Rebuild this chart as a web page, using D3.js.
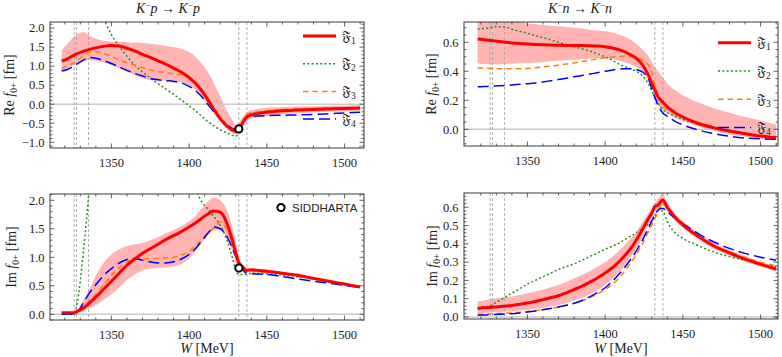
<!DOCTYPE html>
<html><head><meta charset="utf-8">
<script src="https://cdn.jsdelivr.net/npm/d3@7"></script>
<style>body{margin:0;background:#fff}svg{display:block}</style>
</head><body><svg id="c" width="782" height="357"></svg>
<script>
// ---------------- DATA ----------------
const W = [1318,1322,1326,1328,1332,1336,1340,1345,1350,1355,1360,1365,1370,1375,1380,1385,1390,1395,1400,1404,1408,1412,1416,1420,1424,1428,1430,1432,1434,1437,1440,1445,1450,1460,1470,1480,1490,1500,1510];
const thresholds = [1326, 1327.5, 1335.3, 1432, 1437.2];

// Re f0+ , K- p -> K- p
const reKpF1 = [1.13,1.2,1.29,1.33,1.39,1.44,1.48,1.52,1.54,1.53,1.47,1.40,1.31,1.23,1.14,1.05,0.95,0.84,0.70,0.55,0.36,0.12,-0.14,-0.38,-0.56,-0.68,-0.71,-0.66,-0.52,-0.34,-0.28,-0.24,-0.21,-0.17,-0.15,-0.14,-0.125,-0.11,-0.10];
const reKpF2 = [null,null,null,null,null,null,null,2.25,1.83,1.52,1.26,1.03,0.85,0.69,0.54,0.40,0.26,0.11,-0.04,-0.17,-0.31,-0.45,-0.57,-0.67,-0.75,-0.82,-0.84,-0.74,-0.57,-0.32,-0.26,-0.22,-0.2,-0.16,-0.14,-0.12,-0.11,-0.1,-0.09];
const reKpF3 = [0.94,1.0,1.09,1.15,1.28,1.37,1.38,1.33,1.25,1.16,1.09,1.03,0.96,0.9,0.86,0.83,0.8,0.77,0.71,0.58,0.38,0.13,-0.12,-0.36,-0.54,-0.67,-0.7,-0.66,-0.5,-0.27,-0.22,-0.19,-0.17,-0.14,-0.12,-0.11,-0.1,-0.095,-0.09];
const reKpF4 = [0.87,0.92,1.0,1.06,1.16,1.23,1.21,1.15,1.07,0.98,0.89,0.81,0.74,0.68,0.64,0.62,0.6,0.56,0.47,0.36,0.2,0.0,-0.2,-0.38,-0.53,-0.64,-0.67,-0.64,-0.5,-0.35,-0.32,-0.31,-0.3,-0.29,-0.28,-0.27,-0.25,-0.23,-0.21];
const reKpHi = [1.41,1.6,1.78,1.84,1.89,1.80,1.72,1.67,1.65,1.64,1.63,1.62,1.61,1.59,1.56,1.53,1.5,1.45,1.37,1.25,1.07,0.85,0.55,0.2,-0.15,-0.42,-0.53,-0.48,-0.36,-0.22,-0.16,-0.12,-0.09,-0.07,-0.06,-0.05,-0.04,-0.035,-0.03];
const reKpLo = [0.9,0.96,1.03,1.07,1.13,1.16,1.14,1.1,1.03,0.94,0.86,0.77,0.68,0.63,0.62,0.62,0.61,0.58,0.5,0.38,0.2,-0.02,-0.24,-0.45,-0.62,-0.76,-0.79,-0.75,-0.62,-0.44,-0.38,-0.34,-0.31,-0.27,-0.24,-0.22,-0.2,-0.19,-0.18];

// Re f0+ , K- n -> K- n
const reKnF1 = [0.623,0.618,0.613,0.61,0.605,0.6,0.596,0.592,0.588,0.585,0.583,0.581,0.579,0.578,0.578,0.578,0.577,0.574,0.569,0.563,0.552,0.537,0.516,0.49,0.445,0.37,0.32,0.27,0.225,0.19,0.155,0.115,0.085,0.04,0.01,-0.012,-0.03,-0.046,-0.058];
const reKnF2 = [0.69,0.695,0.70,0.71,0.705,0.705,0.69,0.676,0.662,0.647,0.632,0.617,0.6,0.584,0.57,0.555,0.54,0.52,0.50,0.48,0.455,0.435,0.42,0.40,0.37,0.31,0.265,0.22,0.185,0.137,0.115,0.09,0.069,0.035,0.01,-0.016,-0.032,-0.045,-0.053];
const reKnF3 = [0.424,0.422,0.42,0.42,0.418,0.417,0.417,0.418,0.42,0.424,0.43,0.436,0.443,0.45,0.458,0.467,0.476,0.485,0.493,0.498,0.502,0.504,0.502,0.495,0.478,0.44,0.39,0.3,0.235,0.165,0.135,0.105,0.08,0.045,0.018,-0.005,-0.025,-0.04,-0.05];
const reKnF4 = [0.293,0.295,0.297,0.298,0.3,0.302,0.305,0.31,0.315,0.32,0.327,0.335,0.343,0.352,0.362,0.371,0.381,0.39,0.40,0.408,0.414,0.417,0.417,0.412,0.395,0.343,0.28,0.22,0.165,0.115,0.09,0.055,0.03,-0.005,-0.03,-0.048,-0.06,-0.066,-0.069];
const reKnHi = [0.78,0.78,0.78,0.78,0.78,0.78,0.78,0.745,0.73,0.725,0.72,0.715,0.71,0.705,0.7,0.695,0.687,0.682,0.676,0.67,0.658,0.641,0.62,0.59,0.55,0.5,0.465,0.43,0.4,0.36,0.315,0.27,0.235,0.185,0.145,0.115,0.085,0.06,0.034];
const reKnLo = [0.455,0.45,0.448,0.448,0.448,0.45,0.452,0.455,0.458,0.46,0.465,0.47,0.473,0.476,0.48,0.483,0.486,0.488,0.488,0.485,0.477,0.465,0.45,0.43,0.4,0.34,0.29,0.22,0.17,0.135,0.11,0.08,0.055,0.02,-0.01,-0.035,-0.052,-0.065,-0.075];

// Im f0+ , K- p -> K- p
const imKpF1 = [0.025,0.025,0.027,0.05,0.11,0.2,0.3,0.44,0.58,0.72,0.86,0.97,1.07,1.15,1.23,1.31,1.38,1.45,1.53,1.6,1.68,1.76,1.81,1.79,1.62,1.28,1.08,0.9,0.84,0.77,0.78,0.77,0.755,0.72,0.685,0.63,0.58,0.53,0.48];
const imKpF2 = [0.0,0.0,0.02,0.2,1.1,2.3,null,null,null,null,null,null,null,null,null,null,null,null,null,2.2,1.98,1.85,1.71,1.56,1.32,0.98,0.77,0.7,0.7,0.7,0.72,0.72,0.71,0.69,0.66,0.62,0.575,0.525,0.477];
const imKpF3 = [0.0,0.0,0.0,0.03,0.13,0.24,0.35,0.52,0.68,0.82,0.92,0.97,0.98,0.98,0.98,0.99,1.0,1.04,1.1,1.2,1.3,1.42,1.52,1.62,1.5,1.22,1.06,0.9,0.82,0.75,0.75,0.745,0.735,0.7,0.66,0.615,0.57,0.52,0.475];
const imKpF4 = [0.0,0.0,0.0,0.03,0.2,0.38,0.52,0.68,0.8,0.9,0.96,0.98,0.95,0.92,0.9,0.9,0.92,0.97,1.05,1.15,1.28,1.42,1.53,1.5,1.38,1.15,1.02,0.9,0.8,0.72,0.71,0.705,0.7,0.66,0.62,0.58,0.545,0.505,0.47];
const imKpHi = [0.04,0.04,0.045,0.08,0.25,0.45,0.68,0.9,1.05,1.14,1.2,1.23,1.25,1.3,1.35,1.42,1.48,1.55,1.63,1.72,1.85,1.98,2.05,2.0,1.85,1.5,1.25,1.0,0.9,0.81,0.8,0.79,0.775,0.74,0.7,0.645,0.595,0.545,0.495];
const imKpLo = [0.01,0.01,0.012,0.025,0.06,0.1,0.16,0.25,0.35,0.47,0.6,0.7,0.77,0.8,0.81,0.82,0.84,0.88,0.98,1.1,1.25,1.38,1.47,1.48,1.35,1.08,0.92,0.8,0.77,0.73,0.75,0.745,0.735,0.7,0.67,0.615,0.565,0.515,0.465];

// Im f0+ , K- n -> K- n
const imKnF1 = [0.047,0.05,0.052,0.054,0.056,0.06,0.063,0.069,0.076,0.085,0.095,0.105,0.116,0.132,0.15,0.168,0.19,0.213,0.24,0.265,0.295,0.33,0.37,0.42,0.48,0.54,0.567,0.605,0.612,0.64,0.6,0.545,0.504,0.44,0.388,0.35,0.316,0.288,0.262];
const imKnF2 = [0.05,0.055,0.06,0.07,0.09,0.11,0.13,0.155,0.18,0.2,0.22,0.24,0.26,0.275,0.29,0.31,0.33,0.35,0.37,0.385,0.4,0.42,0.44,0.46,0.485,0.51,0.525,0.55,0.58,0.58,0.52,0.46,0.43,0.39,0.355,0.33,0.31,0.29,0.275];
const imKnF3 = [0.015,0.016,0.017,0.018,0.019,0.021,0.023,0.026,0.03,0.035,0.04,0.047,0.055,0.064,0.075,0.088,0.105,0.125,0.15,0.175,0.205,0.245,0.29,0.34,0.4,0.47,0.505,0.54,0.575,0.62,0.59,0.54,0.505,0.44,0.39,0.355,0.325,0.3,0.28];
const imKnF4 = [0.01,0.011,0.012,0.013,0.015,0.016,0.018,0.022,0.027,0.033,0.04,0.047,0.055,0.064,0.075,0.09,0.11,0.133,0.16,0.19,0.225,0.265,0.31,0.36,0.42,0.49,0.525,0.56,0.585,0.595,0.575,0.54,0.51,0.455,0.41,0.375,0.348,0.327,0.31];
const imKnHi = [0.085,0.09,0.097,0.1,0.105,0.108,0.112,0.12,0.13,0.14,0.15,0.162,0.175,0.192,0.21,0.23,0.25,0.275,0.3,0.325,0.355,0.39,0.425,0.465,0.52,0.57,0.595,0.625,0.645,0.675,0.625,0.565,0.525,0.46,0.405,0.368,0.333,0.302,0.277];
const imKnLo = [0.02,0.022,0.024,0.025,0.027,0.029,0.031,0.035,0.04,0.045,0.05,0.057,0.065,0.077,0.09,0.105,0.125,0.148,0.175,0.205,0.235,0.275,0.32,0.37,0.435,0.51,0.545,0.58,0.59,0.61,0.575,0.525,0.487,0.425,0.372,0.335,0.302,0.276,0.25];

// SIDDHARTA point
const siddW = [1432];
const siddRe = [-0.65];
const siddIm = [0.81];

// tick labels
const xTicks = [1350, 1400, 1450, 1500];
const yTicksReKp = [-1.0, -0.5, 0.0, 0.5, 1.0, 1.5, 2.0];
const yTicksReKn = [0.0, 0.2, 0.4, 0.6];
const yTicksImKp = [0.0, 0.5, 1.0, 1.5, 2.0];
const yTicksImKn = [0.0, 0.1, 0.2, 0.3, 0.4, 0.5, 0.6];
const legendNames = ["1", "2", "3", "4"];

// ---------------- STYLE / LAYOUT ----------------
const styles = [
  {color: "#ff0000", width: 3, dash: null},
  {color: "#23901f", width: 1.5, dash: "2,2.3"},
  {color: "#ff8000", width: 1.5, dash: "5.5,4"},
  {color: "#0000ff", width: 1.5, dash: "11,5"}
];
const panels = [
  {id: "a", x0: 50, x1: 364, y0: 22, y1: 148, xDom: [1310.5, 1512.5], yDom: [-1.15, 2.16], yTicks: yTicksReKp, yDec: 1, minor: 0.1,
   series: [reKpF1, reKpF2, reKpF3, reKpF4], lo: reKpLo, hi: reKpHi, part: "Re", sidd: siddRe,
   title: "p", titleX: 168, legend: {x: 303, y: 36, dy: 27.7}, ylabX: 14},
  {id: "b", x0: 464, x1: 778, y0: 22, y1: 146, xDom: [1309.2, 1511.2], yDom: [-0.115, 0.74], yTicks: yTicksReKn, yDec: 1, minor: 0.05,
   series: [reKnF1, reKnF2, reKnF3, reKnF4], lo: reKnLo, hi: reKnHi, part: "Re",
   title: "n", titleX: 580, legend: {x: 718, y: 42.7, dy: 28.3}, ylabX: 436},
  {id: "c", x0: 50, x1: 364, y0: 194, y1: 320, xDom: [1310.5, 1512.5], yDom: [-0.1, 2.11], yTicks: yTicksImKp, yDec: 1, minor: 0.1,
   series: [imKpF1, imKpF2, imKpF3, imKpF4], lo: imKpLo, hi: imKpHi, part: "Im", sidd: siddIm, siddLegend: true, xlabel: true, ylabX: 16},
  {id: "d", x0: 464, x1: 778, y0: 193, y1: 319, xDom: [1309.2, 1511.2], yDom: [-0.011, 0.678], yTicks: yTicksImKn, yDec: 1, minor: 0.02,
   series: [imKnF1, imKnF2, imKnF3, imKnF4], lo: imKnLo, hi: imKnHi, part: "Im", xlabel: true, ylabX: 437}
];

const svg = d3.select("#c");
const defs = svg.append("defs");
const serif = "'Liberation Serif','Times New Roman',serif";
const frameCol = "#3a3a3a";

panels.forEach(p => {
  const xs = d3.scaleLinear().domain(p.xDom).range([p.x0, p.x1]);
  const ys = d3.scaleLinear().domain(p.yDom).range([p.y1, p.y0]);
  defs.append("clipPath").attr("id", "clip" + p.id).append("rect")
    .attr("x", p.x0).attr("y", p.y0).attr("width", p.x1 - p.x0).attr("height", p.y1 - p.y0);
  const plot = svg.append("g").attr("clip-path", `url(#clip${p.id})`);

  // band
  const area = d3.area().x((d, i) => xs(W[i])).y0((d, i) => ys(p.lo[i])).y1((d, i) => ys(p.hi[i])).curve(d3.curveMonotoneX);
  plot.append("path").datum(W).attr("d", area).attr("fill", "#ffb3b3");

  // zero line
  plot.append("line").attr("x1", p.x0).attr("x2", p.x1).attr("y1", ys(0)).attr("y2", ys(0))
    .attr("stroke", "#cccccc").attr("stroke-width", 1.5);
  // threshold lines
  thresholds.forEach(t => plot.append("line").attr("x1", xs(t)).attr("x2", xs(t)).attr("y1", p.y0).attr("y2", p.y1)
    .attr("stroke", "#a8a8a8").attr("stroke-width", 0.9).attr("stroke-dasharray", "3,2"));

  // curves (draw 2,3,4 then 1 on top)
  [1, 2, 3, 0].forEach(k => {
    const s = styles[k];
    const line = d3.line().defined(d => d[1] != null).x(d => xs(d[0])).y(d => ys(d[1])).curve(d3.curveMonotoneX);
    const pts = W.map((w, i) => [w, p.series[k][i]]);
    plot.append("path").datum(pts).attr("d", line).attr("fill", "none")
      .attr("stroke", s.color).attr("stroke-width", s.width)
      .attr("stroke-dasharray", s.dash).attr("stroke-linejoin", "round");
  });

  // SIDDHARTA
  if (p.sidd) {
    svg.selectAll(null).data(siddW).enter().append("circle")
      .attr("cx", (d) => xs(d)).attr("cy", (d, i) => ys(p.sidd[i])).attr("r", 3.6)
      .attr("fill", "#fff").attr("stroke", "#000").attr("stroke-width", 2);
  }

  // frame
  svg.append("rect").attr("x", p.x0).attr("y", p.y0).attr("width", p.x1 - p.x0).attr("height", p.y1 - p.y0)
    .attr("fill", "none").attr("stroke", frameCol).attr("stroke-width", 1);

  // ticks
  const tk = svg.append("g").attr("stroke", frameCol).attr("stroke-width", 0.8);
  const xMinor = d3.range(1320, p.xDom[1], 10).filter(v => v > p.xDom[0]);
  xMinor.forEach(v => {
    const major = v % 50 === 0;
    const L = major ? 4.5 : 2.5;
    tk.append("line").attr("x1", xs(v)).attr("x2", xs(v)).attr("y1", p.y1).attr("y2", p.y1 - L);
    tk.append("line").attr("x1", xs(v)).attr("x2", xs(v)).attr("y1", p.y0).attr("y2", p.y0 + L);
  });
  const nMin = Math.ceil(p.yDom[0] / p.minor - 1e-6), nMax = Math.floor(p.yDom[1] / p.minor + 1e-6);
  const majStep = p.yTicks[1] - p.yTicks[0];
  for (let n = nMin; n <= nMax; n++) {
    const v = n * p.minor;
    const major = Math.abs(v / majStep - Math.round(v / majStep)) < 1e-6;
    const L = major ? 4.5 : 2.5;
    tk.append("line").attr("x1", p.x0).attr("x2", p.x0 + L).attr("y1", ys(v)).attr("y2", ys(v));
    tk.append("line").attr("x1", p.x1).attr("x2", p.x1 - L).attr("y1", ys(v)).attr("y2", ys(v));
  }

  // tick labels
  svg.append("g").selectAll("text").data(xTicks).enter().append("text")
    .attr("x", d => xs(d)).attr("y", p.y1 + 18.5).attr("text-anchor", "middle")
    .attr("font-family", serif).attr("font-size", 12.5).attr("fill", "#222").text(d => d);
  svg.append("g").selectAll("text").data(p.yTicks).enter().append("text")
    .attr("x", p.x0 - 5.5).attr("y", d => ys(d) + 4.3).attr("text-anchor", "end")
    .attr("font-family", serif).attr("font-size", 12.5).attr("fill", "#222")
    .text(d => (d < 0 ? "\u2212" : "") + Math.abs(d).toFixed(p.yDec));

  // y label
  const yl = svg.append("text").attr("font-family", serif).attr("font-size", 14).attr("fill", "#222")
    .attr("text-anchor", "middle")
    .attr("transform", `translate(${p.ylabX},${(p.y0 + p.y1) / 2}) rotate(-90)`);
  yl.append("tspan").text(p.part + " ");
  yl.append("tspan").attr("font-style", "italic").text("f");
  yl.append("tspan").attr("font-size", 9.5).attr("dy", 3).text("0+");
  yl.append("tspan").attr("dy", -3).text(" [fm]");

  // x label
  if (p.xlabel) {
    const xl = svg.append("text").attr("x", (p.x0 + p.x1) / 2).attr("y", 353).attr("text-anchor", "middle")
      .attr("font-family", serif).attr("font-size", 14).attr("fill", "#222");
    xl.append("tspan").attr("font-style", "italic").text("W");
    xl.append("tspan").text(" [MeV]");
  }

  // title
  if (p.title) {
    const t = svg.append("text").attr("x", p.titleX).attr("y", 13).attr("text-anchor", "middle")
      .attr("font-family", serif).attr("font-size", 14).attr("fill", "#222");
    const part = (sub) => {
      t.append("tspan").attr("font-style", "italic").text("K");
      t.append("tspan").attr("font-size", 9).attr("dy", -5).text("\u2212");
      t.append("tspan").attr("font-style", "italic").attr("dy", 5).text(sub);
    };
    part(p.title);
    t.append("tspan").text(" \u2192 ");
    part(p.title);
  }

  // legend
  if (p.legend) {
    styles.forEach((s, k) => {
      const y = p.legend.y + k * p.legend.dy;
      svg.append("line").attr("x1", p.legend.x).attr("x2", p.legend.x + 33).attr("y1", y).attr("y2", y)
        .attr("stroke", s.color).attr("stroke-width", s.width).attr("stroke-dasharray", s.dash);
      const lt = svg.append("text").attr("x", p.legend.x + 39).attr("y", y + 4.5)
        .attr("font-family", serif).attr("font-size", 14).attr("fill", "#222");
      lt.append("tspan").text("\u{1D509}");
      lt.append("tspan").attr("font-size", 9.5).attr("dy", 3).text(legendNames[k]);
    });
  }
  if (p.siddLegend) {
    svg.append("circle").attr("cx", 281).attr("cy", 207.5).attr("r", 3.6)
      .attr("fill", "#fff").attr("stroke", "#000").attr("stroke-width", 2);
    svg.append("text").attr("x", 292).attr("y", 211.7).attr("font-family", "'Liberation Sans',Arial,sans-serif")
      .attr("font-size", 11.5).attr("fill", "#222").text("SIDDHARTA");
  }
});
</script></body></html>
